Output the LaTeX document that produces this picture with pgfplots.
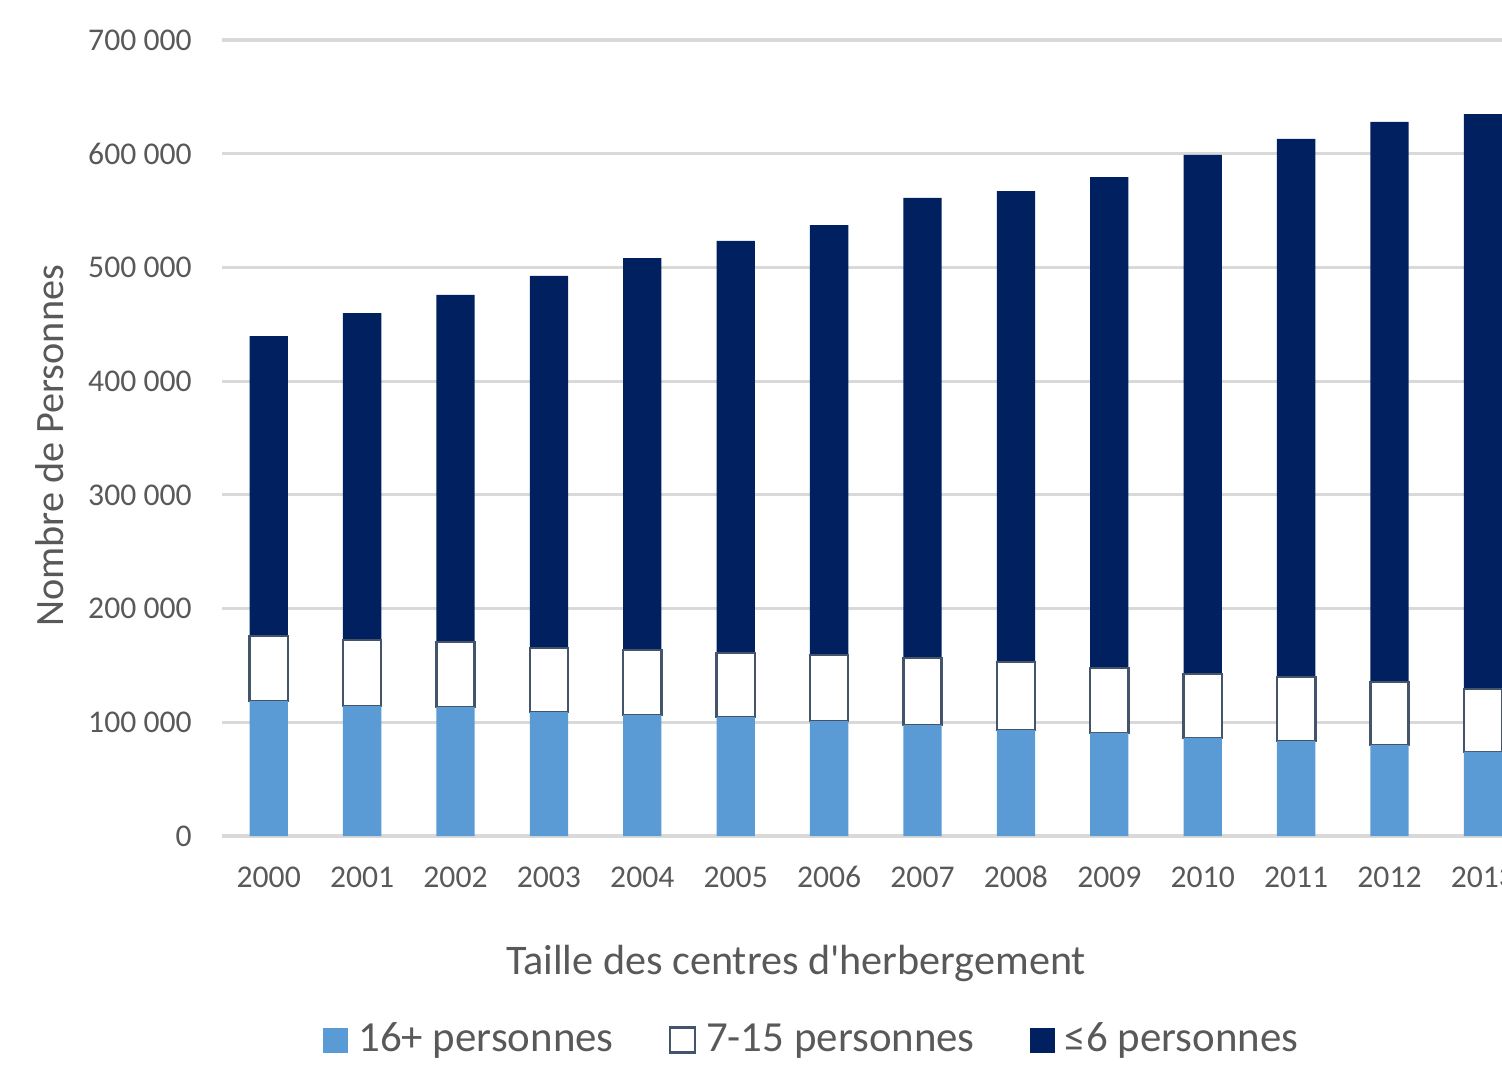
\documentclass[border=0pt]{standalone}
\usepackage{pgfplots}
\pgfplotsset{compat=1.18}
\usepackage{fontspec}
\setmainfont{Carlito}
\definecolor{lblue}{HTML}{5B9BD5}
\definecolor{navy}{HTML}{002060}
\definecolor{txt}{HTML}{595959}
\definecolor{gridc}{HTML}{D9D9D9}
\definecolor{edge}{HTML}{44546A}
\begin{document}
\begin{tikzpicture}
\path[use as bounding box, clip] (0,0) rectangle (15.02cm,10.70cm);
\begin{axis}[
  at={(2.22cm,2.34cm)}, anchor=south west,
  scale only axis, width=13.076cm, height=7.96cm,
  ybar stacked, bar width=0.41,
  xmin=-0.5, xmax=13.5, ymin=0, ymax=700000,
  xtick={0,...,13},
  xticklabels={2000,2001,2002,2003,2004,2005,2006,2007,2008,2009,2010,2011,2012,2013},
  ytick={0,100000,...,700000},
  scaled y ticks=false,
  /pgf/number format/.cd, assume math mode=true, 1000 sep={\ }, fixed, precision=0,
  /pgfplots/.cd,
  ymajorgrids, xmajorgrids=false, grid style={draw=gridc, line width=0.9pt},
  axis x line*=bottom, axis y line*=left,
  x axis line style={draw=gridc, line width=0.9pt, -},
  y axis line style={draw=none},
  major tick length=0pt,
  tick style={draw=none},
  tick label style={font=\fontsize{9}{11}\selectfont, text=txt},
  yticklabel style={anchor=east, xshift=-0.18cm},
  xticklabel style={anchor=base, yshift=-0.51cm},
  xlabel={Taille des centres d\textquotesingle herbergement},
  ylabel={Nombre de Personnes},
  xlabel style={font=\fontsize{12}{14}\selectfont, text=txt, at={(axis description cs:0.439,-0.1595)}, anchor=center},
  ylabel style={font=\fontsize{11.45}{14}\selectfont, text=txt, at={(axis description cs:-0.1315,0.49)}, anchor=center},
  legend columns=3,
  legend style={draw=none, fill=none, font=\fontsize{12.2}{14}\selectfont, text=txt,
    at={(axis description cs:0.453,-0.2563)}, anchor=center,
    /tikz/every odd column/.append style={column sep=0.03cm},
    /tikz/every even column/.append style={column sep=0.48cm}},
  legend image code/.code={\path[#1] (0cm,-0.125cm) rectangle (0.25cm,0.125cm);},
]
\addplot[fill=lblue, draw=none] coordinates {
(0,118700) (1,114300) (2,113400) (3,109000) (4,106400) (5,104600) (6,101100)
(7,97600) (8,93200) (9,90600) (10,86200) (11,83500) (12,80000) (13,73900)};
\addplot[fill=white, draw=edge, line width=0.7pt] coordinates {
(0,57200) (1,58100) (2,57200) (3,56300) (4,57200) (5,56300) (6,58100)
(7,58900) (8,59800) (9,57100) (10,56300) (11,56300) (12,55400) (13,55400)};
\addplot[fill=navy, draw=none] coordinates {
(0,263800) (1,287500) (2,305200) (3,327200) (4,344700) (5,362400) (6,378100)
(7,404600) (8,414200) (9,431800) (10,456400) (11,473200) (12,492500) (13,505600)};
\legend{16+ personnes, 7-15 personnes, ≤6 personnes}
\end{axis}
\end{tikzpicture}
\end{document}
